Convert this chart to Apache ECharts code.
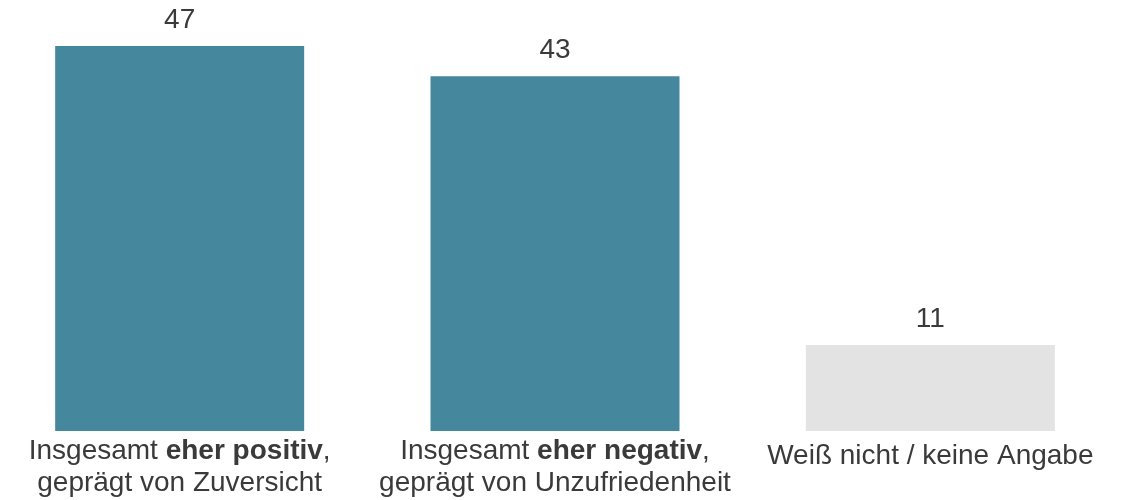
<!DOCTYPE html>
<html>
<head>
<meta charset="utf-8">
<script src="https://cdn.jsdelivr.net/npm/echarts@6/dist/echarts.min.js"></script>
<style>
  html, body { margin: 0; padding: 0; background: #fff; overflow: hidden; }
  #chart { position: absolute; left: -8px; top: 0; width: 1135px; height: 500px; }
</style>
</head>
<body>
<div id="chart"></div>
<script>
// category labels, {b|...} marks the bold part
const categories = [
  'Insgesamt {b|eher positiv},\ngeprägt von Zuversicht',
  'Insgesamt {b|eher negativ},\ngeprägt von Unzufriedenheit',
  'Weiß nicht / keine Angabe'
]
const values = [47, 43.3, 10.5]
const barColors = ['#45879d', '#45879d', '#e3e3e3']

const chart = echarts.init(document.getElementById('chart'))
const textColor = '#3a3a3a'
const fontFamily = '"Liberation Sans", Arial, sans-serif'

const option = {
  animation: false,
  grid: {
    top: 46,
    bottom: 69,
    left: 0,
    right: 9,
    containLabel: false
  },
  xAxis: {
    type: 'category',
    data: categories,
    axisLine: { show: false },
    axisTick: { show: false },
    axisLabel: {
      interval: 0,
      margin: 4,
      color: textColor,
      fontFamily: fontFamily,
      fontSize: 28,
      lineHeight: 32,
      // single-line labels sit a little lower than the first line of the others
      formatter: (v) => v.indexOf('\n') < 0 ? `{s|${v}}` : v,
      rich: {
        b: {
          fontWeight: 'bold',
          color: textColor,
          fontFamily: fontFamily,
          fontSize: 28,
          lineHeight: 32
        },
        s: {
          color: textColor,
          fontFamily: fontFamily,
          fontSize: 28,
          lineHeight: 42
        }
      }
    }
  },
  yAxis: {
    type: 'value',
    min: 0,
    max: 47,
    show: false,
    splitLine: { show: false }
  },
  series: [{
    type: 'bar',
    barWidth: 249,
    data: values.map((v, i) => ({ value: v, itemStyle: { color: barColors[i] } })),
    label: {
      show: true,
      position: 'top',
      distance: 12,
      color: textColor,
      fontFamily: fontFamily,
      fontSize: 28,
      formatter: (p) => Math.round(p.value)
    }
  }]
}
chart.setOption(option)
</script>
</body>
</html>
